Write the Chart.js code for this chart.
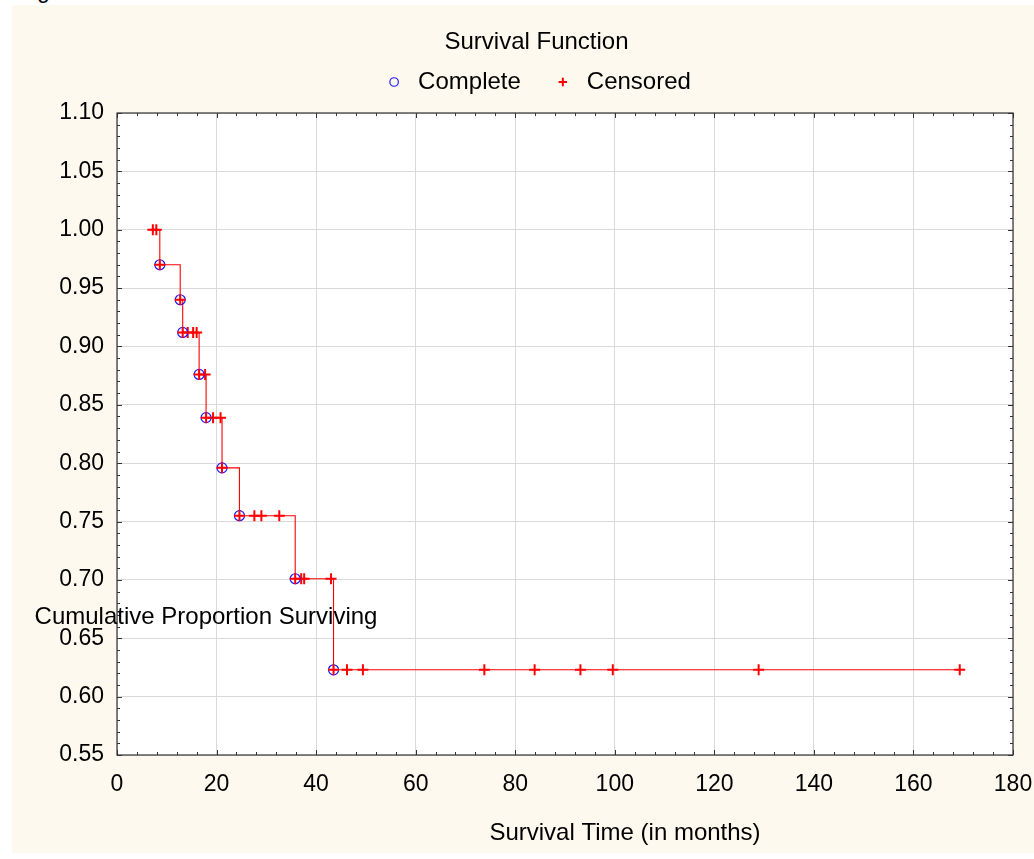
<!DOCTYPE html>
<html>
<head>
<meta charset="utf-8">
<script src="https://cdn.jsdelivr.net/npm/chart.js@4.4.0/dist/chart.umd.min.js"></script>
<style>
	html, body { margin: 0; padding: 0; background: #fff; }
	body { width: 1034px; height: 859px; position: relative; overflow: hidden; font-family: "Liberation Sans", Arial, sans-serif; }
	#panel { position: absolute; left: 12px; top: 5px; width: 1022px; height: 848px; background: #fdf9ee; }
	#cut { position: absolute; left: 37px; top: -21.5px; font-size: 23px; line-height: 23px; color: #000; }
	#canvas { position: absolute; left: 0; top: 0; }
</style>
</head>
<body>
<div id="panel"></div>
<div id="cut">g</div>
<canvas id="canvas" width="1034" height="859"></canvas>
<script>
// Kaplan-Meier survival estimate
const eventTimes = [8.6, 12.7, 13.2, 16.5, 17.9, 21.1, 24.6, 35.8, 43.5];
const eventSurvival = [0.970, 0.940, 0.912, 0.876, 0.839, 0.796, 0.755, 0.701, 0.623];
const censoredTimes = [7.2, 7.9, 14.2, 15.3, 16.0, 17.7, 19.3, 20.8, 27.6, 29.0, 32.6, 37.0, 37.6, 43.0,
	46.2, 49.4, 73.8, 83.9, 93.1, 99.6, 128.9, 169.3];
const censoredSurvival = [1.000, 1.000, 0.912, 0.912, 0.912, 0.876, 0.839, 0.839, 0.755, 0.755, 0.755, 0.701, 0.701, 0.701,
	0.623, 0.623, 0.623, 0.623, 0.623, 0.623, 0.623, 0.623];
const xTicks = [0, 20, 40, 60, 80, 100, 120, 140, 160, 180];
const yTicks = [0.55, 0.60, 0.65, 0.70, 0.75, 0.80, 0.85, 0.90, 0.95, 1.00, 1.05, 1.10];

const FONT = '"Liberation Sans", Arial, sans-serif';
Chart.defaults.font.family = FONT;
Chart.defaults.font.size = 24;
Chart.defaults.color = '#000';

const completePts = eventTimes.map((t, i) => ({ x: t, y: eventSurvival[i] }));
const censoredPts = censoredTimes.map((t, i) => ({ x: t, y: censoredSurvival[i] }));
const curvePts = completePts.concat(censoredPts).sort((a, b) => a.x - b.x);

// white plot area, frame with inward minor ticks, free-standing axis titles
const frame = {
	id: 'frame',
	beforeDraw(c) {
		const a = c.chartArea, ctx = c.ctx;
		ctx.save();
		ctx.fillStyle = '#fff';
		ctx.fillRect(a.left, a.top, a.right - a.left, a.bottom - a.top);
		ctx.restore();
	},
	beforeDatasetsDraw(c) {
		const a = c.chartArea, ctx = c.ctx, xs = c.scales.x, ys = c.scales.y;
		ctx.save();
		ctx.strokeStyle = '#333';
		ctx.lineWidth = 1.2;
		ctx.strokeRect(a.left, a.top, a.right - a.left, a.bottom - a.top);
		ctx.lineWidth = 1;
		ctx.beginPath();
		for (let t = 0; t <= 180; t += 4) {
			const px = Math.round(xs.getPixelForValue(t)) + 0.5;
			const len = t % 20 === 0 ? 5 : 3;
			ctx.moveTo(px, a.bottom); ctx.lineTo(px, a.bottom - len);
			ctx.moveTo(px, a.top); ctx.lineTo(px, a.top + len);
		}
		for (let k = 55; k <= 110; k++) {
			const py = Math.round(ys.getPixelForValue(k / 100)) + 0.5;
			const len = k % 5 === 0 ? 5 : 3;
			ctx.moveTo(a.left, py); ctx.lineTo(a.left + len, py);
			ctx.moveTo(a.right, py); ctx.lineTo(a.right - len, py);
		}
		ctx.stroke();
		ctx.restore();
	},
	afterDraw(c) {
		const a = c.chartArea, ctx = c.ctx;
		ctx.save();
		ctx.fillStyle = '#000';
		ctx.font = '24px ' + FONT;
		ctx.textAlign = 'center';
		ctx.textBaseline = 'middle';
		ctx.fillText('Survival Time (in months)', a.left + 508, 833);
		ctx.fillText('Cumulative Proportion Surviving', a.left + 89, a.top + 504);
		ctx.restore();
	}
};

const ctx = document.getElementById('canvas').getContext('2d');
new Chart(ctx, {
	type: 'line',
	data: {
		datasets: [
			{
				label: 'Complete+', data: completePts, showLine: false,
				pointStyle: 'cross', pointRadius: 5.5, pointHoverRadius: 5.5,
				borderColor: '#ff0000', pointBorderColor: '#ff0000', pointBorderWidth: 2
			},
			{
				label: 'Complete', data: completePts, showLine: false,
				pointStyle: 'circle', pointRadius: 5, pointHoverRadius: 5,
				borderColor: '#1a1aff', pointBorderColor: '#1a1aff', borderWidth: 1.2, pointBorderWidth: 1.2,
				backgroundColor: 'rgba(0,0,0,0)', pointBackgroundColor: 'rgba(0,0,0,0)'
			},
			{
				label: 'Censored', data: censoredPts, showLine: false,
				pointStyle: 'cross', pointRadius: 5.5, pointHoverRadius: 5.5,
				borderColor: '#ff0000', pointBorderColor: '#ff0000', borderWidth: 2, pointBorderWidth: 2
			},
			{
				label: 'curve', data: curvePts, stepped: true,
				borderColor: '#ff0000', borderWidth: 1.1, pointRadius: 0, fill: false
			}
		]
	},
	options: {
		responsive: false,
		animation: false,
		layout: { padding: { left: 48, right: 9, top: 20, bottom: 0 } },
		plugins: {
			title: { display: true, text: 'Survival Function', font: { size: 24, weight: 'normal' }, padding: { top: 8, bottom: 3.2 } },
			subtitle: { display: true, text: '', weight: 500, font: { size: 8, lineHeight: 1 }, padding: { top: 0, bottom: 1 } },
			legend: {
				display: true,
				labels: {
					usePointStyle: true, boxWidth: 24, boxHeight: 6, padding: 10,
					font: { size: 24 },
					generateLabels: (chart) => Chart.defaults.plugins.legend.labels.generateLabels(chart)
						.filter(l => l.text === 'Complete' || l.text === 'Censored')
						.map(l => { if (l.text === 'Complete') l.text = 'Complete   '; return l; })
				},
				onClick: null
			},
			tooltip: { enabled: false }
		},
		scales: {
			x: {
				type: 'linear', min: 0, max: 180,
				afterBuildTicks: (s) => { s.ticks = xTicks.map(v => ({ value: v })); },
				afterFit: (s) => { s.height = 104; s.paddingLeft = 0; s.paddingRight = 21; },
				ticks: { padding: 16, font: { size: 23 }, maxRotation: 0, autoSkip: false },
				grid: { color: '#d9d9d9', lineWidth: 1, drawTicks: false },
				border: { display: false }
			},
			y: {
				type: 'linear', min: 0.55, max: 1.10,
				afterBuildTicks: (s) => { s.ticks = yTicks.map(v => ({ value: v })); },
				afterFit: (s) => { s.width = 69; },
				ticks: { padding: 13, font: { size: 23 }, callback: (v) => Number(v).toFixed(2), autoSkip: false },
				grid: { color: '#d9d9d9', lineWidth: 1, drawTicks: false },
				border: { display: false }
			}
		}
	},
	plugins: [frame]
});
</script>
</body>
</html>
